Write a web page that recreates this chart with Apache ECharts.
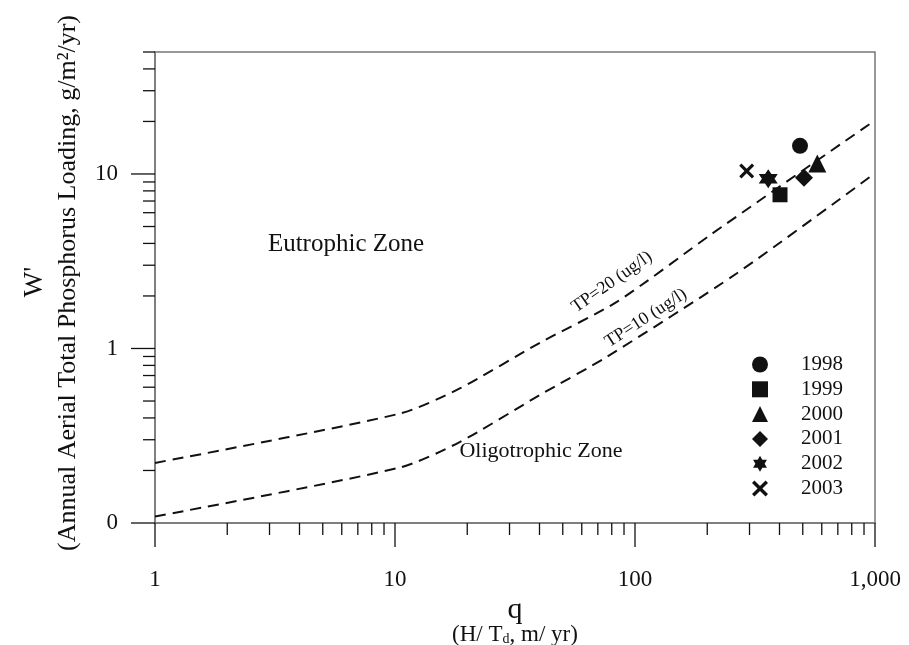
<!DOCTYPE html>
<html>
<head>
<meta charset="utf-8">
<title>Phosphorus loading</title>
<script src="https://cdn.jsdelivr.net/npm/echarts/dist/echarts.min.js"></script>
<style>
  html, body { margin: 0; padding: 0; background: #fff; }
  #main { width: 909px; height: 645px; }
</style>
</head>
<body>
<div id="main"></div>
<script>
// 数据：各年份的 q 与 W'
var years = ['1998', '1999', '2000', '2001', '2002', '2003'];
var qValues = [487, 402, 575, 506, 359, 292];
var wValues = [14.5, 7.6, 11.5, 9.5, 9.4, 10.4];

// TP=20 / TP=10 两条界线（从图上读取的点）
var tp20Q = [1, 10.5, 18.6, 40.2, 84, 211, 1000];
var tp20W = [0.221, 0.424, 0.59, 1.08, 1.85, 4.58, 20.3];
var tp10Q = [1, 10.5, 18.6, 40, 76.2, 265, 1000];
var tp10W = [0.109, 0.208, 0.291, 0.54, 0.895, 2.69, 10.1];

// 刻度
var xMajorTicks = [1, 10, 100, 1000];
var xMinorTicks = [2, 3, 4, 5, 6, 7, 8, 9, 20, 30, 40, 50, 60, 70, 80, 90, 200, 300, 400, 500, 600, 700, 800, 900];
var xTickText = ['1', '10', '100', '1,000'];
var yMajorTicks = [0.1, 1, 10];
var yMinorTicks = [0.2, 0.3, 0.4, 0.5, 0.6, 0.7, 0.8, 0.9, 2, 3, 4, 5, 6, 7, 8, 9, 20, 30, 40, 50];
var yTickText = ['0', '1', '10'];

var X_MIN = 1, X_MAX = 1000, Y_MIN = 0.1, Y_MAX = 50;
var FONT = "'Liberation Serif', 'DejaVu Serif', serif";
var INK = '#111';

var starPath = 'path://M0,-10L8.66,5L-8.66,5Z M0,10L-8.66,-5L8.66,-5Z';
var crossPath = 'path://M-10,-7L-7,-10L0,-3L7,-10L10,-7L3,0L10,7L7,10L0,3L-7,10L-10,7L-3,0Z';
var symbols = ['circle', 'rect', 'triangle', 'diamond', starPath, crossPath];
var symbolSizes = [16, 15, 18, 18, 19, 15];

function findLabel(v, ticks, texts) {
  for (var i = 0; i < ticks.length; i++) {
    if (Math.abs(v - ticks[i]) < ticks[i] * 1e-6) return texts[i];
  }
  return '';
}

// 自绘刻度线（对数轴的次刻度）
function tickSeries(data, dir) {
  return {
    type: 'custom',
    silent: true,
    clip: false,
    z: 5,
    data: data,
    renderItem: function (params, api) {
      var p = api.coord([api.value(0), api.value(1)]);
      var len = api.value(2);
      var shape = dir === 'x'
        ? { x1: p[0], y1: p[1], x2: p[0], y2: p[1] + len }
        : { x1: p[0] - len, y1: p[1], x2: p[0], y2: p[1] };
      return { type: 'line', shape: shape, style: { stroke: INK, lineWidth: 1.3 } };
    }
  };
}

var xTickData = xMajorTicks.map(function (v) { return [v, Y_MIN, 24]; })
  .concat(xMinorTicks.map(function (v) { return [v, Y_MIN, 12]; }));
var yTickData = yMajorTicks.map(function (v) { return [X_MIN, v, 24]; })
  .concat(yMinorTicks.map(function (v) { return [X_MIN, v, 12]; }));

var series = [];
years.forEach(function (y, i) {
  series.push({
    name: y,
    type: 'scatter',
    symbol: symbols[i],
    symbolSize: symbolSizes[i],
    itemStyle: { color: INK, opacity: 1 },
    data: [[qValues[i], wValues[i]]],
    z: 6
  });
});

function lineData(qs, ws) {
  return qs.map(function (q, i) { return [q, ws[i]]; });
}
[[tp20Q, tp20W], [tp10Q, tp10W]].forEach(function (d) {
  series.push({
    type: 'line',
    symbol: 'none',
    silent: true,
    smooth: 0.25,
    data: lineData(d[0], d[1]),
    lineStyle: { color: INK, width: 2, type: [11, 7] },
    z: 4
  });
});
series.push(tickSeries(xTickData, 'x'));
series.push(tickSeries(yTickData, 'y'));

var myChart = echarts.init(document.getElementById('main'));

var option = {
  animation: false,
  backgroundColor: '#fff',
  grid: {
    left: 155, right: 34, top: 52, bottom: 122,
    show: true, borderColor: '#777', borderWidth: 1.5
  },
  legend: {
    data: years,
    orient: 'vertical',
    left: 747,
    top: 349,
    itemWidth: 16,
    itemHeight: 16,
    itemGap: 3.8,
    selectedMode: false,
    formatter: function (name) { return '{g| }{t|' + name + '}'; },
    textStyle: {
      fontFamily: FONT, fontSize: 21, color: INK,
      rich: {
        g: { width: 28 },
        t: { fontFamily: FONT, fontSize: 21, color: INK }
      }
    }
  },
  xAxis: {
    type: 'log',
    logBase: 10,
    min: X_MIN,
    max: X_MAX,
    splitLine: { show: false },
    axisLine: { lineStyle: { color: '#777', width: 1.5 } },
    axisTick: { show: false },
    axisLabel: {
      margin: 45,
      fontFamily: FONT, fontSize: 23, color: INK,
      formatter: function (v) { return findLabel(v, xMajorTicks, xTickText); }
    }
  },
  yAxis: {
    type: 'log',
    logBase: 10,
    min: Y_MIN,
    max: Y_MAX,
    interval: 1,
    splitLine: { show: false },
    axisLine: { lineStyle: { color: '#777', width: 1.5 } },
    axisTick: { show: false },
    axisLabel: {
      margin: 37,
      fontFamily: FONT, fontSize: 23, color: INK,
      formatter: function (v) { return findLabel(v, yMajorTicks, yTickText); }
    }
  },
  graphic: [
    { type: 'text', x: 35, y: 282, rotation: Math.PI / 2,
      style: { text: "W'", font: '27px ' + FONT, fill: INK, align: 'center', verticalAlign: 'middle' } },
    { type: 'text', x: 68, y: 283, rotation: Math.PI / 2,
      style: { text: '(Annual Aerial Total Phosphorus Loading, g/m\u00b2/yr)', font: '26px ' + FONT, fill: INK, align: 'center', verticalAlign: 'middle' } },
    { type: 'text', x: 515, y: 610,
      style: { text: 'q', font: '30px ' + FONT, fill: INK, align: 'center', verticalAlign: 'middle' } },
    { type: 'text', x: 515, y: 635,
      style: {
        text: '(H/ T{sub|d}, m/ yr)', font: '23px ' + FONT, fill: INK, align: 'center', verticalAlign: 'middle',
        rich: { sub: { fontSize: 14, fontFamily: FONT, verticalAlign: 'bottom', padding: [6, 0, 0, 0] } }
      } },
    { type: 'text', x: 346, y: 244,
      style: { text: 'Eutrophic Zone', font: '25px ' + FONT, fill: INK, align: 'center', verticalAlign: 'middle' } },
    { type: 'text', x: 541, y: 451,
      style: { text: 'Oligotrophic Zone', font: '22px ' + FONT, fill: INK, align: 'center', verticalAlign: 'middle' } },
    { type: 'text', x: 612, y: 282, rotation: 35 * Math.PI / 180,
      style: { text: 'TP=20 (ug/l)', font: '18px ' + FONT, fill: INK, align: 'center', verticalAlign: 'middle' } },
    { type: 'text', x: 646, y: 318, rotation: 33 * Math.PI / 180,
      style: { text: 'TP=10 (ug/l)', font: '18px ' + FONT, fill: INK, align: 'center', verticalAlign: 'middle' } }
  ],
  series: series
};

myChart.setOption(option);
</script>
</body>
</html>
